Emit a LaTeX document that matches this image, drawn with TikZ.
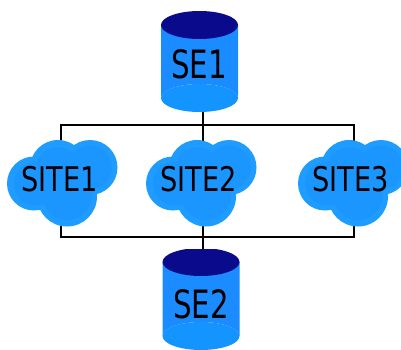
\documentclass[tikz,border=0pt]{standalone}
\usepackage{fontspec}
\setmainfont{DejaVu Sans}
\definecolor{cylbody}{HTML}{1A8CFF}
\definecolor{cyllow}{HTML}{1494FF}
\definecolor{cyltop}{HTML}{0A0A8C}
\definecolor{cloudout}{HTML}{1E9CFF}
\definecolor{cloudin}{HTML}{1C96FF}
\tikzset{
  wire/.style={draw=black,line width=1.8pt},
  cyllabel/.style={inner sep=0pt,font=\fontsize{39}{39}\selectfont,xscale=0.75,text=black},
  sitelabel/.style={inner sep=0pt,font=\fontsize{34}{34}\selectfont,xscale=0.8,text=black}
}
\newcommand{\cyl}[3]{% cx, top cy, bottom cy
  \begin{scope}
  \clip (#1-40,#2-13) rectangle (#1+40,350);
  \fill[cylbody] (#1-38.5,#2) -- (#1-38.5,#3) arc[x radius=38.5,y radius=14,start angle=180,end angle=360] -- (#1+38.5,#2) -- cycle;
  \fill[cyllow] (#1-38.5,#3) arc[x radius=38.5,y radius=14,start angle=180,end angle=360] -- (#1+38.5,#3) arc[x radius=38.5,y radius=14,start angle=0,end angle=180] -- cycle;
  \fill[cyltop] (#1,#2) ellipse[x radius=38.5,y radius=14];
  \end{scope}
}
\newcommand{\cloudshape}[1]{% x offset from SITE1
  \begin{scope}[xshift=#1pt]
  \fill[cloudout] (34,183.5) circle[radius=27] (58,168) circle[radius=28] (90,167.5) circle[radius=27.5] (67,196.5) circle[radius=30];
  \fill[cloudin] (36,183.5) circle[radius=22] (58,169) circle[radius=22] (90,167.5) circle[radius=22] (67,195) circle[radius=25];
  \end{scope}
}
\begin{document}
\begin{tikzpicture}[x=1pt,y=-1pt]
\useasboundingbox (0,0) rectangle (401,350);
\fill[white] (0,0) rectangle (401,350);
\coordinate (tl) at (61,125);
\coordinate (tr) at (354,125);
\coordinate (bl) at (61,237);
\coordinate (br) at (354,237);
\coordinate (se1port) at (203,108);
\coordinate (se2port) at (203,252);
\draw[wire,line join=miter] (tl) -- (tr) -- (br) -- (bl) -- cycle;
\draw[wire] (se1port) -- (se2port);
\cyl{199.5}{25}{98}
\cyl{201}{262}{336}
\cloudshape{0}
\cloudshape{139}
\cloudshape{291}
\node[cyllabel] (se1) at (199,64.5) {SE1};
\node[cyllabel] (se2) at (201,304.5) {SE2};
\node[sitelabel] (site1) at (59.5,179.5) {SITE1};
\node[sitelabel] (site2) at (198.5,179.5) {SITE2};
\node[sitelabel] (site3) at (350.5,179.5) {SITE3};
\end{tikzpicture}
\end{document}
